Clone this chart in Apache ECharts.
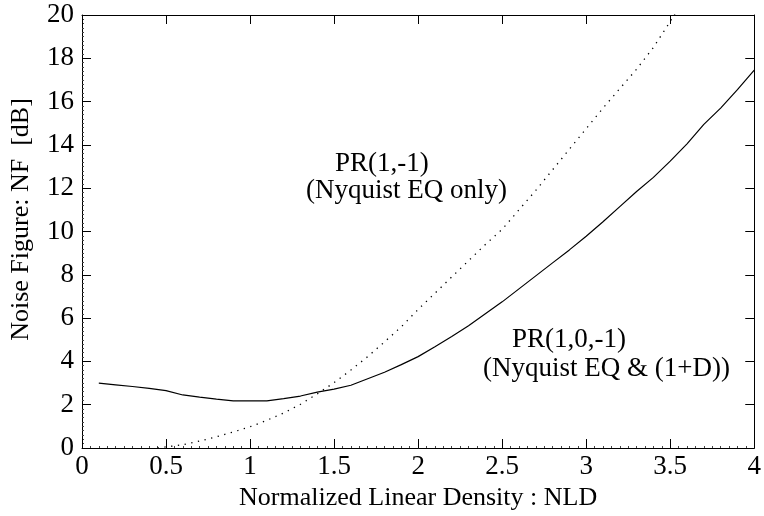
<!DOCTYPE html>
<html>
<head>
<meta charset="utf-8">
<script src="https://cdn.jsdelivr.net/npm/echarts@6/dist/echarts.min.js"></script>
<style>
  html, body { margin: 0; padding: 0; background: #fff; }
  #chart { width: 764px; height: 516px; }
</style>
</head>
<body>
<div id="chart"></div>
<script>
// NLD values (x) and noise figure in dB (y)
const pr101X = [0.1, 0.2, 0.3, 0.4, 0.5, 0.6, 0.7, 0.8, 0.9, 1.0, 1.1, 1.2, 1.3, 1.4, 1.5, 1.6, 1.7, 1.8, 1.9, 2.0,
  2.1, 2.2, 2.3, 2.4, 2.5, 2.6, 2.7, 2.8, 2.9, 3.0, 3.1, 3.2, 3.3, 3.4, 3.5, 3.6, 3.7, 3.8, 3.9, 4.0]
const pr101Y = [3.0, 2.92, 2.84, 2.75, 2.65, 2.45, 2.35, 2.26, 2.18, 2.18, 2.18, 2.28, 2.4, 2.58, 2.72, 2.9, 3.2, 3.5, 3.85, 4.22,
  4.68, 5.15, 5.65, 6.2, 6.75, 7.35, 7.95, 8.55, 9.15, 9.78, 10.45, 11.15, 11.85, 12.5, 13.25, 14.05, 14.95, 15.7, 16.55, 17.45]

const pr11X = [0.45, 0.5, 0.6, 0.7, 0.8, 0.9, 1.0, 1.1, 1.2, 1.3, 1.4, 1.5, 1.6, 1.7, 1.8, 1.9, 2.0,
  2.1, 2.2, 2.3, 2.4, 2.5, 2.6, 2.7, 2.8, 2.9, 3.0, 3.1, 3.2, 3.3, 3.4, 3.5, 3.6]
const pr11Y = [0.0, 0.05, 0.15, 0.32, 0.52, 0.74, 0.98, 1.28, 1.62, 2.02, 2.5, 3.02, 3.6, 4.22, 4.9, 5.6, 6.4,
  7.15, 7.9, 8.65, 9.4, 10.1, 11.0, 11.9, 12.85, 13.8, 14.75, 15.7, 16.6, 17.5, 18.5, 19.7, 21.0]

const xTicks = [0, 0.5, 1, 1.5, 2, 2.5, 3, 3.5, 4]
const yTicks = [0, 2, 4, 6, 8, 10, 12, 14, 16, 18, 20]

const FONT = '"Liberation Serif", "DejaVu Serif", serif'

const chart = echarts.init(document.getElementById("chart"), null, { renderer: "canvas" })

const zip = (xs, ys) => xs.map((x, i) => [x, ys[i]])

const axisBase = {
  type: "value",
  axisLine: { show: true, onZero: false, lineStyle: { color: "#000", width: 1 } },
  axisTick: { show: true, inside: true, length: 9, lineStyle: { color: "#000" } },
  minorTick: { show: true, splitNumber: 10, length: 2, lineStyle: { color: "#444" } },
  splitLine: { show: false },
}

const option = {
  backgroundColor: "#fff",
  animation: false,
  grid: { left: 82, right: 7, top: 15, bottom: 68 },
  xAxis: [
    {
      ...axisBase,
      min: xTicks[0],
      max: xTicks[xTicks.length - 1],
      interval: 0.5,
      position: "bottom",
      axisLabel: { color: "#000", fontFamily: FONT, fontSize: 27, margin: 5 },
      name: "Normalized Linear Density : NLD",
      nameLocation: "middle",
      nameGap: 34,
      nameTextStyle: { color: "#000", fontFamily: FONT, fontSize: 26 },
    },
    {
      ...axisBase,
      min: xTicks[0],
      max: xTicks[xTicks.length - 1],
      interval: 0.5,
      position: "top",
      minorTick: { show: false },
      axisLabel: { show: false },
    },
  ],
  yAxis: [
    {
      ...axisBase,
      min: yTicks[0],
      max: yTicks[yTicks.length - 1],
      interval: 2,
      position: "left",
      axisLabel: { color: "#000", fontFamily: FONT, fontSize: 27, margin: 8 },
      name: "Noise Figure: NF  [dB]",
      nameLocation: "middle",
      nameGap: 48,
      nameTextStyle: { color: "#000", fontFamily: FONT, fontSize: 26, padding: [0, 0, 0, 24] },
    },
    {
      ...axisBase,
      min: yTicks[0],
      max: yTicks[yTicks.length - 1],
      interval: 2,
      position: "right",
      minorTick: { show: false },
      axisLabel: { show: false },
    },
  ],
  series: [
    {
      name: "PR(1,0,-1)",
      type: "line",
      data: zip(pr101X, pr101Y),
      showSymbol: false,
      clip: true,
      lineStyle: { color: "#000", width: 1.2 },
    },
    {
      name: "PR(1,-1)",
      type: "line",
      data: zip(pr11X, pr11Y),
      showSymbol: false,
      clip: true,
      lineStyle: { color: "#000", width: 1.3, type: [1.3, 5.5] },
    },
  ],
  graphic: [
    { type: "text", left: 335, top: 150, style: { text: "PR(1,-1)", font: "27px " + FONT, fill: "#000" } },
    { type: "text", left: 306, top: 177, style: { text: "(Nyquist EQ only)", font: "27px " + FONT, fill: "#000" } },
    { type: "text", left: 512, top: 326, style: { text: "PR(1,0,-1)", font: "27px " + FONT, fill: "#000" } },
    { type: "text", left: 483, top: 355, style: { text: "(Nyquist EQ & (1+D))", font: "27px " + FONT, fill: "#000" } },
  ],
}

chart.setOption(option)
</script>
</body>
</html>
